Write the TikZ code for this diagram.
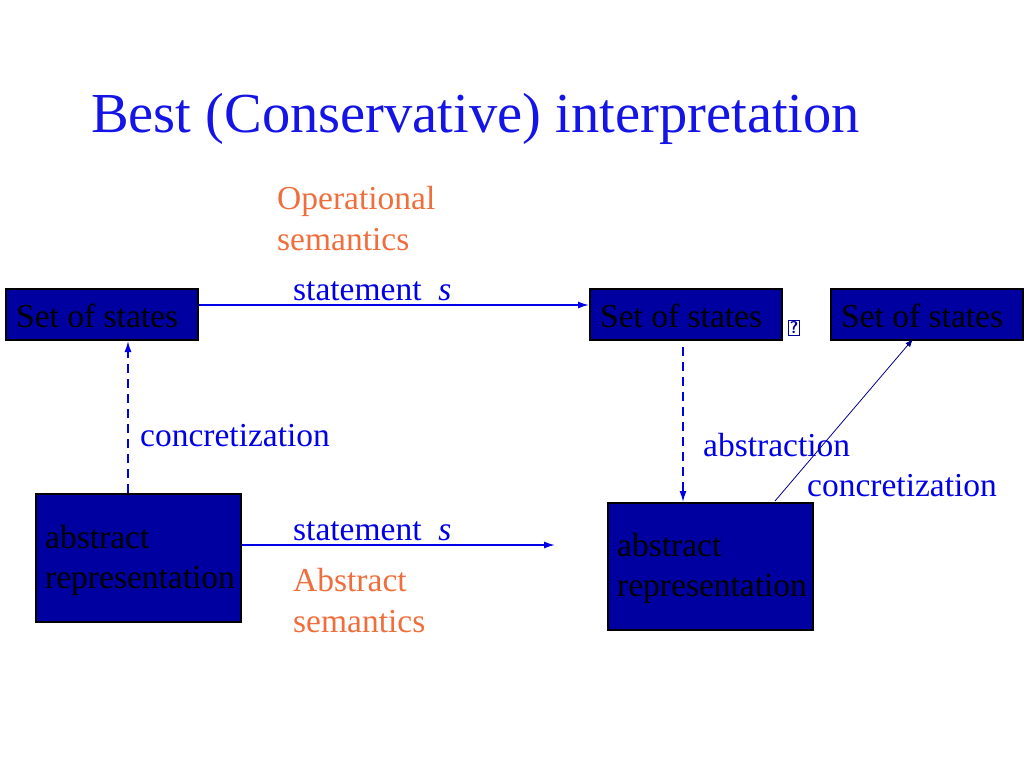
\documentclass[tikz,border=0pt]{standalone}
\usepackage{fontspec}
\setmainfont{Liberation Serif}
\usetikzlibrary{arrows.meta}
\definecolor{bx}{RGB}{0,0,160}
\definecolor{ttl}{RGB}{20,20,230}
\definecolor{org}{RGB}{240,110,60}
\definecolor{ln}{RGB}{0,0,230}
\begin{document}
\begin{tikzpicture}[x=1pt,y=-1pt,
  box/.style={draw=black,line width=1.5pt,fill=bx,inner sep=0,anchor=north west},
  lab/.style={anchor=west,inner sep=0,font=\fontsize{33.5}{33}\selectfont},
  intext/.style={anchor=west,inner sep=0,align=left,font=\fontsize{33.5}{40}\selectfont,text=black},
  arr/.style={ln,line width=1.5pt,-{Latex[length=11pt,width=7pt]}}]
\useasboundingbox (0,0) rectangle (1024,768);
\node[anchor=west,inner sep=0,text=ttl,font=\fontsize{56.5}{60}\selectfont] (title) at (91,119) {Best (Conservative) interpretation};
\node[box,minimum width=192pt,minimum height=51pt] (A) at (5,288) {};
\node[intext] at (16,316) {Set of states};
\node[box,minimum width=192pt,minimum height=51pt] (B) at (589,288) {};
\node[intext] at (600,316) {Set of states};
\node[box,minimum width=192pt,minimum height=51pt] (C) at (830,288) {};
\node[intext] at (841,316) {Set of states};
\node[box,minimum width=205pt,minimum height=128pt] (D) at (35,493) {};
\node[intext] at (45,560) {abstract\\representation};
\node[box,minimum width=205pt,minimum height=127pt] (E) at (607,502) {};
\node[intext] at (617,568) {abstract\\representation};
\node[draw=bx,line width=1pt,inner sep=1.5pt,text=bx,font=\sffamily\bfseries\fontsize{17}{17}\selectfont] (q) at (794,328) {?};
\node[lab,text=org,align=left,font=\fontsize{33.5}{41}\selectfont] (op) at (277,219) {Operational\\semantics};
\node[lab,text=ln] (s1) at (293,291) {statement\ \ \textit{s}};
\node[lab,text=ln] (c1) at (140,436) {concretization};
\node[lab,text=ln] (ab) at (703,445) {abstraction};
\node[lab,text=ln] (c2) at (807,486) {concretization};
\node[lab,text=ln] (s2) at (293,531) {statement\ \ \textit{s}};
\node[lab,text=org,align=left,font=\fontsize{33.5}{41}\selectfont] (as) at (293,601) {Abstract\\semantics};
\coordinate (Dend) at (555,545);
\draw[arr] (A.east |- 0,305) -- (B.west |- 0,305);
\draw[arr,dashed,dash pattern=on 9pt off 6pt] (D.north -| 128,0) -- (128,341);
\draw[arr,dashed,dash pattern=on 9pt off 6pt] (683,347) -- (E.north -| 683,0);
\draw[arr] (D.east |- 0,545) -- (Dend);
\draw[ln!60!black,line width=0.8pt,-{Latex[length=8pt,width=6pt]}] (775,501) -- (913,339);
\end{tikzpicture}
\end{document}
